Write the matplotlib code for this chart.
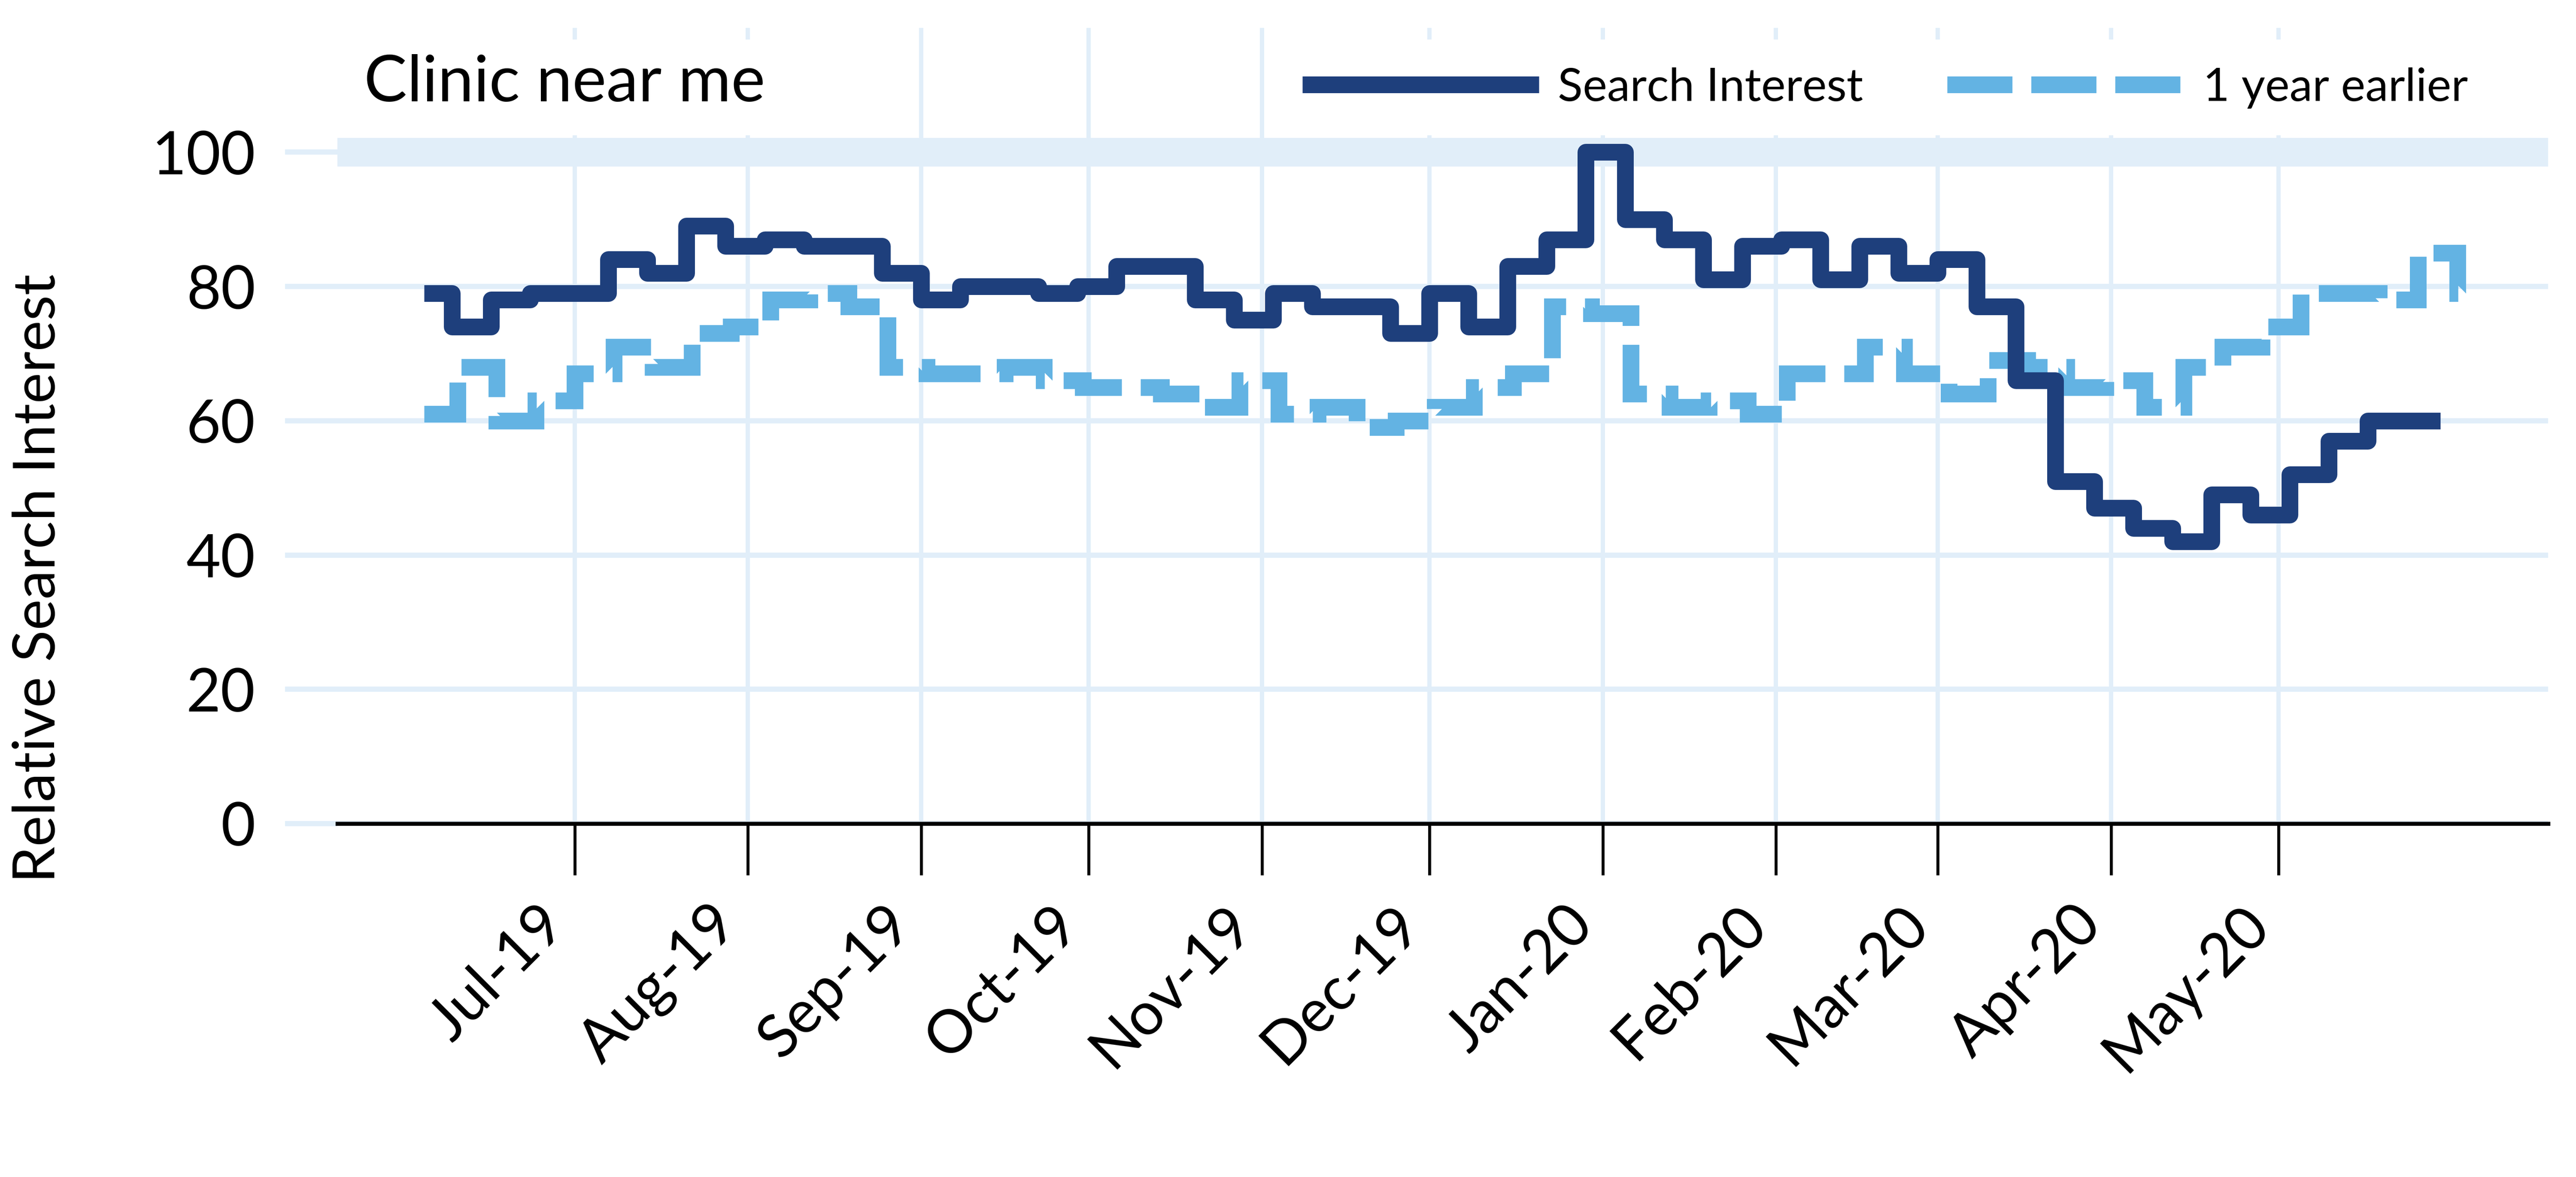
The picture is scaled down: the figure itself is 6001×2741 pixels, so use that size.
import numpy as np
import pandas as pd
import matplotlib
matplotlib.use('Agg')
import matplotlib.pyplot as plt
import matplotlib.dates as mdates
from matplotlib.lines import Line2D
from matplotlib.patches import Rectangle

plt.rcParams['font.family'] = ['Lato', 'DejaVu Sans']

# ---------------- data ----------------
title = 'Clinic near me'
series_names = ['Search Interest', '1 year earlier']
ylabel = 'Relative Search Interest'
yticks = [0, 20, 40, 60, 80, 100]
month_ticks = pd.date_range('2019-07-01', '2020-05-01', freq='MS')
month_labels = [d.strftime('%b-%y') for d in month_ticks]

# weekly values (weeks start on Sunday), current period
search_week_start = '2019-06-02'
search_values = [79, 74, 78, 79, 79, 84, 82, 89, 86, 87, 86, 86, 82, 78, 80,
                 80, 79, 80, 83, 83, 78, 75, 79, 77, 77, 73, 79, 74, 83, 87,
                 100, 90, 87, 81, 86, 87, 81, 86, 82, 84, 77, 66, 51, 47, 44,
                 42, 49, 46, 52, 57, 60, 60]
# weekly values one year earlier (shown shifted forward by one year)
earlier_week_start = '2018-06-03'
earlier_values = [61, 68, 60, 63, 67, 71, 68, 73, 74, 78, 79, 77, 68, 67, 67,
                  68, 66, 65, 65, 64, 62, 66, 61, 62, 59, 60, 62, 65, 67, 77,
                  76, 64, 62, 63, 61, 67, 67, 71, 67, 64, 69, 68, 65, 66, 62,
                  68, 71, 74, 79, 79, 78, 85, 79]
view_start = '2019-06-04'
search_end = '2020-05-30'
earlier_end = '2020-06-03'

# ---------------- style ----------------
DARK = '#1E3F7C'
LIGHT = '#63B3E3'
GRID = '#E1EEF9'

W, H, DPI = 6001, 2741, 400
fig = plt.figure(figsize=(W / DPI, H / DPI), dpi=DPI)
ax = fig.add_axes([786 / W, 1 - 1918 / H, (5936 - 786) / W, (1918 - 65) / H])

# edges for stairs
s_starts = list(pd.date_range(search_week_start, periods=len(search_values), freq='7D'))
s_edges = [pd.Timestamp(view_start)] + s_starts[1:] + [pd.Timestamp(search_end)]
e_starts = list(pd.date_range(earlier_week_start, periods=len(earlier_values), freq='7D')
                + pd.DateOffset(years=1))
e_edges = [pd.Timestamp(view_start)] + e_starts[1:] + [pd.Timestamp(earlier_end)]

lw = 7.0
dash = (0, (3.9, 1.13))

ax.stairs(earlier_values, mdates.date2num(e_edges), baseline=None, color=LIGHT,
          linewidth=lw, linestyle=dash, capstyle='butt', joinstyle='miter', zorder=3)
ax.stairs(search_values, mdates.date2num(s_edges), baseline=None, color=DARK,
          linewidth=lw, capstyle='butt', joinstyle='round', zorder=4)

# axes limits
ax.set_xlim(mdates.date2num(pd.Timestamp('2019-05-19 12:00')),
            mdates.date2num(pd.Timestamp('2020-06-18 06:00')))
ax.set_ylim(0, 118.5)

# grid
ax.set_axisbelow(True)
ax.set_yticks(yticks)
ax.set_xticks(mdates.date2num(month_ticks))
ax.set_xticklabels(month_labels)
ax.yaxis.grid(True, color=GRID, linewidth=2.2)
ax.xaxis.grid(True, color=GRID, linewidth=1.8)
ax.axhline(100, color=GRID, linewidth=12, zorder=0.6)

for s in ['left', 'top', 'right']:
    ax.spines[s].set_visible(False)
ax.spines['bottom'].set_linewidth(1.7)
ax.spines['bottom'].set_color('black')
ax.spines['bottom'].set_zorder(5)

ax.tick_params(axis='y', length=22, width=2.2, color=GRID, pad=12.4,
               labelsize=25, labelcolor='black')
ax.tick_params(axis='x', length=21.6, width=1.24, color='black', pad=8.8,
               labelsize=25, labelcolor='black')
plt.setp(ax.get_xticklabels(), rotation=45, ha='right')

# white boxes behind title and legend
for x0, x1 in [(800, 2000), (2990, 5936)]:
    ax.add_patch(Rectangle((x0 / W, 1 - 315 / H), (x1 - x0) / W, (315 - 92) / H,
                           transform=fig.transFigure, facecolor='white',
                           edgecolor='none', zorder=1, clip_on=False))

# texts
fig.text(848 / W, 1 - 236 / H, title, fontsize=27, va='baseline', ha='left')
fig.text(90 / W, 1 - 1347 / H, ylabel, fontsize=24.5, rotation=90,
         va='center', ha='center')

handles = [Line2D([], [], color=DARK, linewidth=lw, solid_capstyle='butt'),
           Line2D([], [], color=LIGHT, linewidth=lw, linestyle=dash,
                  dash_capstyle='butt')]
fig.legend(handles, series_names, loc='center left', ncol=2,
           bbox_to_anchor=(3034 / W, 1 - 205 / H), bbox_transform=fig.transFigure,
           frameon=False, fontsize=19.3, handlelength=5.14, handletextpad=0.41,
           columnspacing=1.83, borderpad=0, borderaxespad=0)

fig.savefig('out.png', dpi=DPI)
